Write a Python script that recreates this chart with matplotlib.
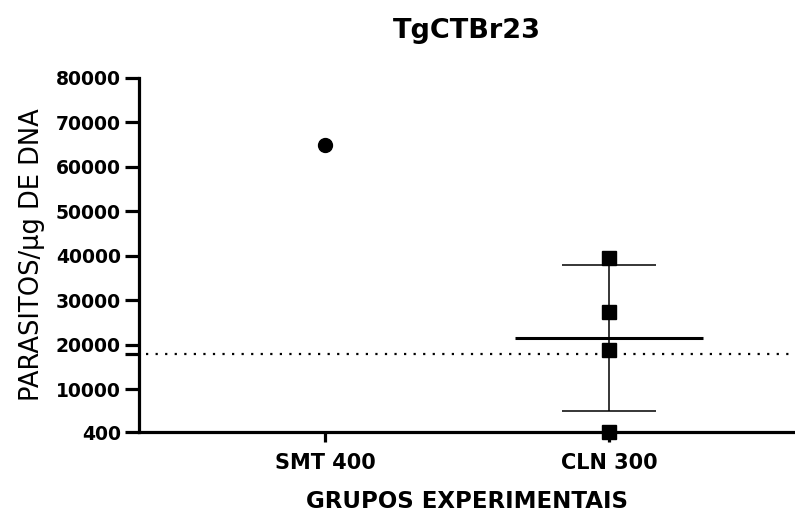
import numpy as np
import matplotlib
matplotlib.use("Agg")
import matplotlib.pyplot as plt

# dados
groups = ["SMT 400", "CLN 300"]
smt_values = [65000]
cln_values = [39500, 27300, 18800, 400]
cutoff = 18000
yticks = [400, 10000, 20000, 30000, 40000, 50000, 60000, 70000, 80000]

plt.rcParams["font.family"] = ["DejaVu Sans"]

fig = plt.figure(figsize=(7.95, 5.22), dpi=100)
ax = fig.add_axes([0.1748, 0.1724, 0.8252, 0.6782])

# pontos individuais
ax.plot([0] * len(smt_values), smt_values, "o", color="black",
        markersize=10, clip_on=False, zorder=5)
ax.plot([1] * len(cln_values), cln_values, "s", color="black",
        markersize=10, clip_on=False, zorder=5)

# média e desvio padrão do grupo CLN
mean = np.mean(cln_values)
sd = np.std(cln_values, ddof=1)
ax.hlines(mean, 1 - 0.33, 1 + 0.33, color="black", lw=2.2, zorder=4)
ax.vlines(1, mean - sd, mean + sd, color="black", lw=1.1, zorder=3)
ax.hlines([mean - sd, mean + sd], 1 - 0.167, 1 + 0.167, color="black",
          lw=1.1, zorder=3)

# linha de corte
ax.axhline(cutoff, xmin=0.01, color="black", lw=1.6,
           linestyle=(0, (1, 3.3)), zorder=2)

ax.set_xlim(-0.655, 1.655)
ax.set_ylim(400, 80000)
ax.set_yticks(yticks + [cutoff])
ax.set_yticklabels([f"{v}" for v in yticks] + [""])
ax.set_xticks([0, 1])
ax.set_xticklabels(groups)

for side in ["top", "right"]:
    ax.spines[side].set_visible(False)
for side in ["left", "bottom"]:
    ax.spines[side].set_linewidth(2.3)

ax.tick_params(axis="y", length=10, width=2.3, labelsize=13.5, pad=3)
ax.tick_params(axis="x", length=7, width=2.3, labelsize=15, pad=8)
for lab in ax.get_yticklabels() + ax.get_xticklabels():
    lab.set_fontweight("bold")

ax.set_title("TgCTBr23", fontsize=19.5, fontweight="bold", pad=29)
ax.set_xlabel("GRUPOS EXPERIMENTAIS", fontsize=16.5, fontweight="bold",
              labelpad=12)
ax.set_ylabel("PARASITOS/µg DE DNA", fontsize=18.5, labelpad=8)

fig.savefig("out.png", dpi=100)
